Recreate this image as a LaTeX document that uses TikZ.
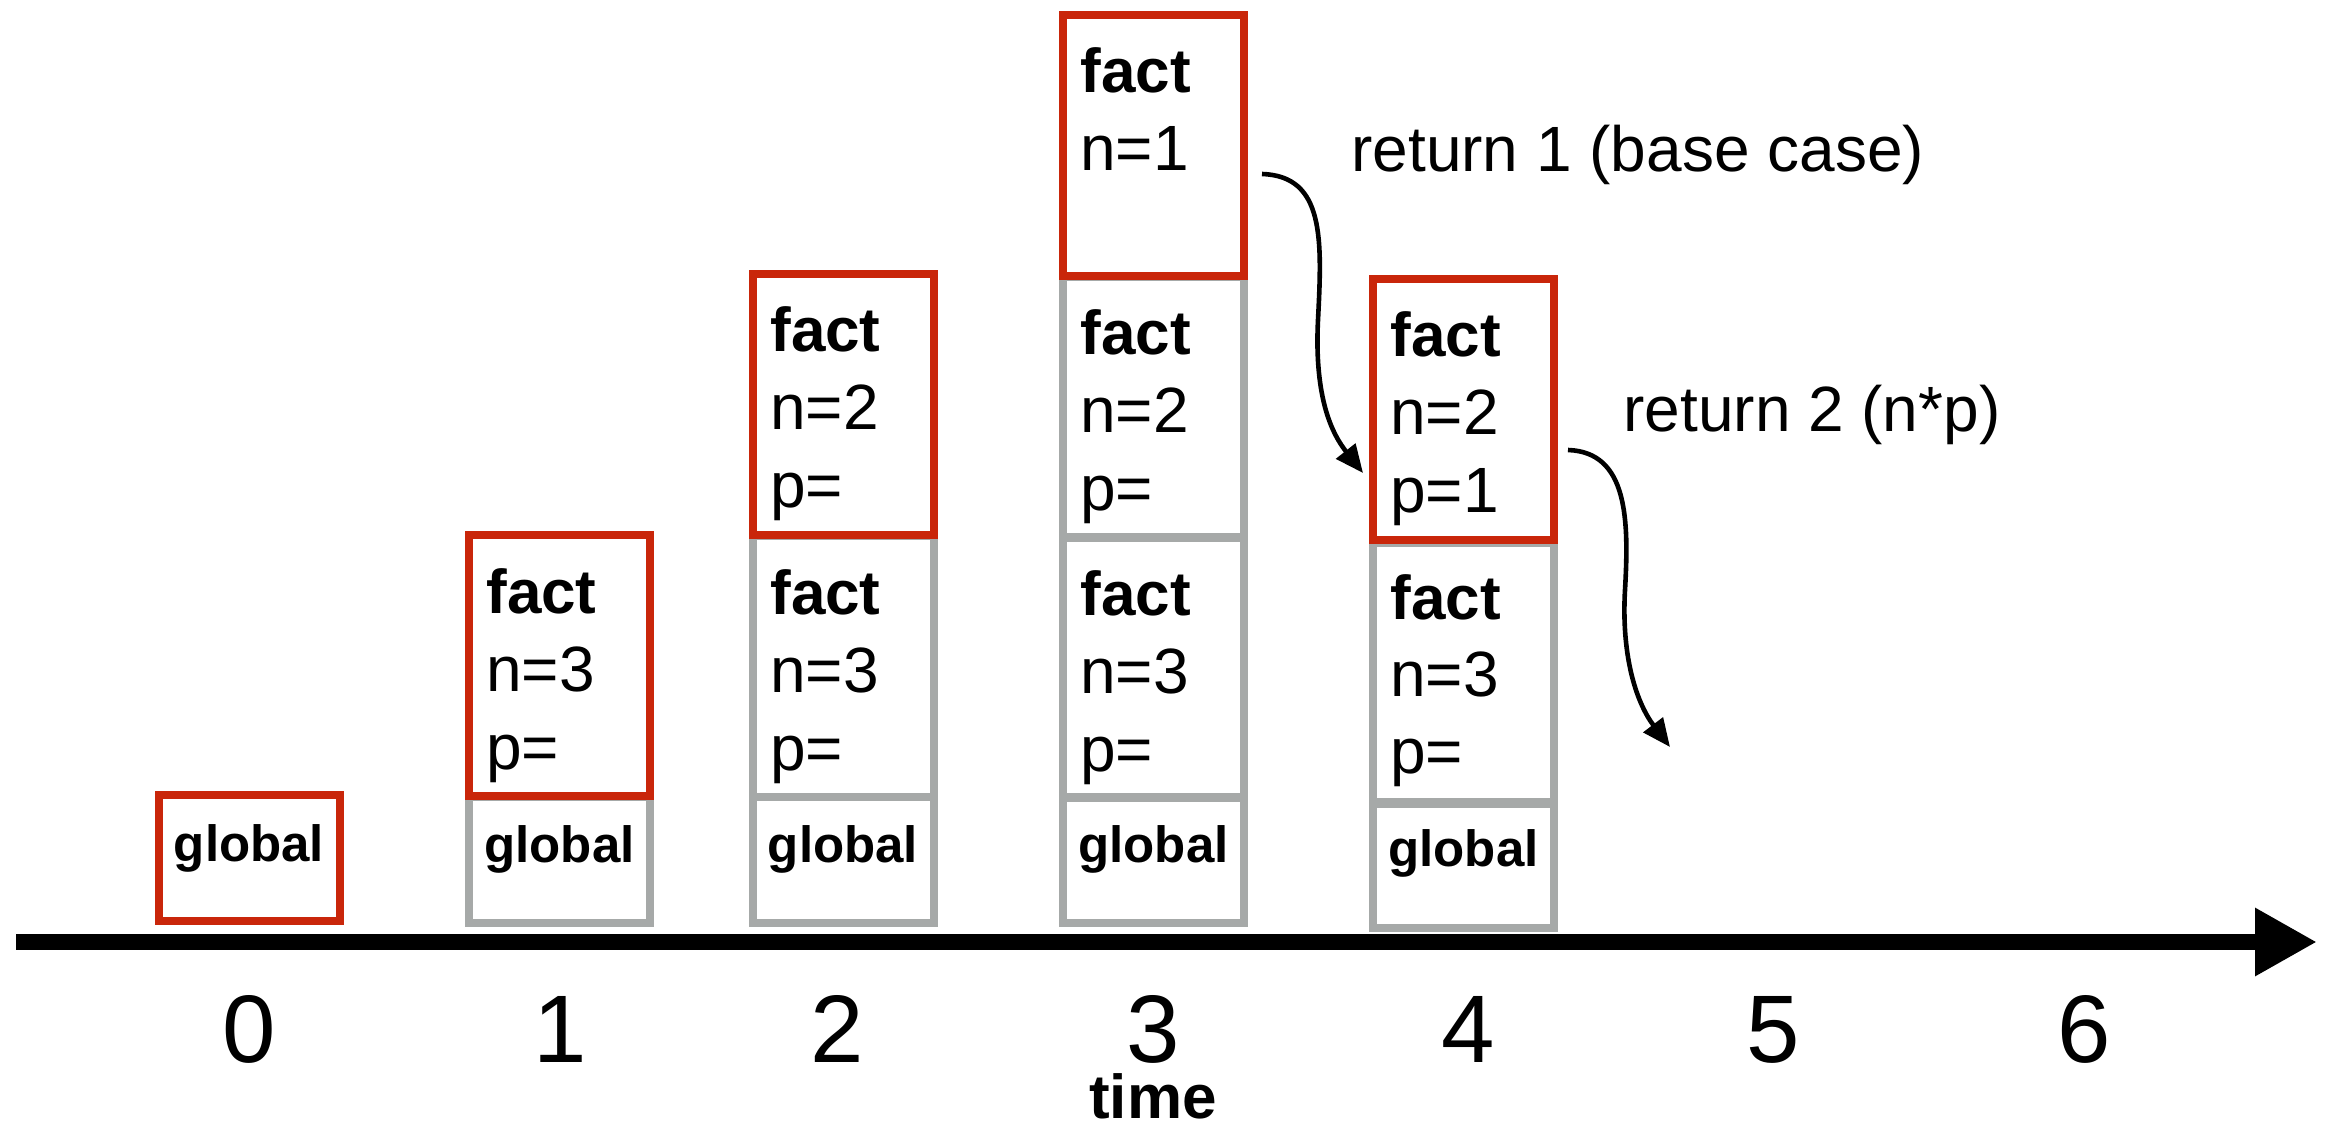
\documentclass[tikz,border=0pt]{standalone}
\usepackage{fontspec}
\setmainfont{Liberation Sans}
\usetikzlibrary{arrows.meta}
\definecolor{boxred}{RGB}{201,38,10}
\definecolor{boxgray}{RGB}{166,169,168}
\begin{document}
\begin{tikzpicture}[x=0.5pt,y=-0.5pt,
  frame/.style={draw, line width=4pt, inner sep=0pt, outer sep=0pt, minimum width=90.5pt, anchor=north west},
  active/.style={frame, draw=boxred},
  idle/.style={frame, draw=boxgray},
  factsz/.style={minimum height=130.5pt},
  globsz/.style={minimum height=63pt},
  fname/.style={anchor=base west, inner sep=0pt, font=\fontsize{31pt}{31pt}\selectfont\bfseries},
  fvar/.style={anchor=base west, inner sep=0pt, font=\fontsize{32pt}{32pt}\selectfont},
  gname/.style={anchor=base, inner sep=0pt, font=\fontsize{25.5pt}{25.5pt}\selectfont\bfseries},
  note/.style={anchor=base west, inner sep=0pt, font=\fontsize{32pt}{32pt}\selectfont},
  tick/.style={anchor=base, inner sep=0pt, text depth=0pt, text height=35pt, font=\fontsize{48pt}{48pt}\selectfont},
  axlabel/.style={anchor=base, inner sep=0pt, text depth=0pt, text height=22.5pt, font=\fontsize{31pt}{31pt}\selectfont\bfseries},
  conn/.style={line width=2.3pt, -{Triangle[length=14pt,width=12pt]}},
  axisline/.style={line width=8pt, -{Triangle[length=31pt,width=32pt]}}
]
\useasboundingbox (0,0) rectangle (2325,1128);

% ---- column 0
\node[active,globsz] (g0) at (158.5,795) {};
\node[gname] (g0t) at (249,861) {global};

% ---- column 1
\node[idle,globsz] (g1) at (469,797) {};
\node[active,factsz] (f1a) at (469,535) {};
\node[gname] (g1t) at (559.5,862) {global};
\node[fname] (f1an) at (486,613) {fact};
\node[fvar] (f1av) at (486,691) {n=3};
\node[fvar] (f1ap) at (486,769) {p=};

% ---- column 2
\node[idle,globsz] (g2) at (752.5,797) {};
\node[idle,factsz] (f2b) at (752.5,536) {};
\node[active,factsz] (f2a) at (752.5,274) {};
\node[gname] (g2t) at (843,862) {global};
\node[fname] (f2an) at (770,352) {fact};
\node[fvar] (f2av) at (770,430) {n=2};
\node[fvar] (f2ap) at (770,508) {p=};
\node[fname] (f2bn) at (770,614) {fact};
\node[fvar] (f2bv) at (770,692) {n=3};
\node[fvar] (f2bp) at (770,770) {p=};

% ---- column 3
\node[idle,globsz] (g3) at (1063,797) {};
\node[idle,factsz] (f3c) at (1063,537) {};
\node[idle,factsz] (f3b) at (1063,277) {};
\node[active,factsz] (f3a) at (1063,15) {};
\node[gname] (g3t) at (1153.5,862) {global};
\node[fname] (f3an) at (1080,93) {fact};
\node[fvar] (f3av) at (1080,171) {n=1};
\node[fname] (f3bn) at (1080,355) {fact};
\node[fvar] (f3bv) at (1080,433) {n=2};
\node[fvar] (f3bp) at (1080,511) {p=};
\node[fname] (f3cn) at (1080,615) {fact};
\node[fvar] (f3cv) at (1080,693) {n=3};
\node[fvar] (f3cp) at (1080,771) {p=};

% ---- column 4
\node[idle,globsz] (g4) at (1373,802) {};
\node[idle,factsz] (f4b) at (1373,543) {};
\node[active,factsz] (f4a) at (1373,279) {};
\node[gname] (g4t) at (1463.5,866) {global};
\node[fname] (f4an) at (1390,357) {fact};
\node[fvar] (f4av) at (1390,435) {n=2};
\node[fvar] (f4ap) at (1390,513) {p=1};
\node[fname] (f4bn) at (1390,619) {fact};
\node[fvar] (f4bv) at (1390,696) {n=3};
\node[fvar] (f4bp) at (1390,773) {p=};

% ---- notes
\node[note] (r1) at (1351,172) {return 1 (base case)};
\node[note] (r2) at (1623,432) {return 2 (n*p)};

% ---- curved arrows
\coordinate (a1s) at (1262,174);
\coordinate (a1m) at (1318,320);
\coordinate (a1e) at (1363,473);
\draw[conn] (a1s) .. controls (1325,176) and (1322,240) .. (a1m)
               .. controls (1314,400) and (1333,435) .. (a1e);
\coordinate (a2s) at (1568,450);
\coordinate (a2m) at (1625,590);
\coordinate (a2e) at (1670,747);
\draw[conn] (a2s) .. controls (1628,452) and (1629,520) .. (a2m)
               .. controls (1621,660) and (1638,705) .. (a2e);

% ---- time axis
\coordinate (axs) at (16,942);
\coordinate (axe) at (2317,942);
\draw[axisline] (axs) -- (axe);
\node[tick] (t0) at (249,1062) {0};
\node[tick] (t1) at (560,1062) {1};
\node[tick] (t2) at (837,1062) {2};
\node[tick] (t3) at (1153,1062) {3};
\node[tick] (t4) at (1468,1062) {4};
\node[tick] (t5) at (1773,1062) {5};
\node[tick] (t6) at (2084,1062) {6};
\node[axlabel] (tl) at (1153,1118) {time};
\end{tikzpicture}
\end{document}
